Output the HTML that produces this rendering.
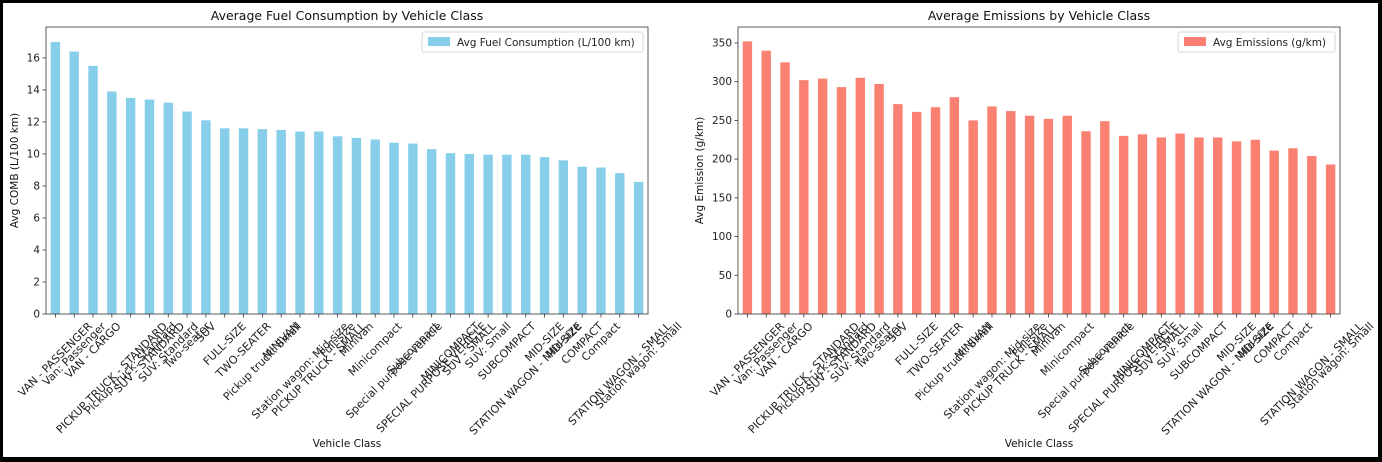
<!DOCTYPE html>
<html><head><meta charset="utf-8"><style>
body{margin:0;background:#000;}
svg{display:block;font-family:"DejaVu Sans","Liberation Sans",sans-serif;}
</style></head><body>
<svg id="c" width="1382" height="462">
<rect x="3" y="3" width="1375" height="454" fill="#fff"/>
</svg>
<script>
const categories=["VAN - PASSENGER","Van: Passenger","VAN - CARGO","PICKUP TRUCK - STANDARD","Pickup truck: Standard","SUV - STANDARD","SUV: Standard","Two-seater","SUV","FULL-SIZE","TWO-SEATER","Pickup truck: Small","MINIVAN","Station wagon: Mid-size","PICKUP TRUCK - SMALL","Full-size","Minivan","Minicompact","Special purpose vehicle","Subcompact","SPECIAL PURPOSE VEHICLE","MINICOMPACT","SUV - SMALL","SUV: Small","SUBCOMPACT","STATION WAGON - MID-SIZE","MID-SIZE","Mid-size","COMPACT","Compact","STATION WAGON - SMALL","Station wagon: Small"];
const fuelValues=[17.0,16.4,15.5,13.9,13.5,13.4,13.2,12.65,12.1,11.6,11.6,11.55,11.5,11.4,11.4,11.1,11.0,10.9,10.7,10.65,10.3,10.05,10.0,9.95,9.95,9.95,9.8,9.6,9.2,9.15,8.8,8.25];
const emissionValues=[352,340,325,302,304,293,305,297,271,261,267,280,250,268,262,256,252,256,236,249,230,232,228,233,228,228,223,225,211,214,204,193];
const fuelTicks=[0,2,4,6,8,10,12,14,16];
const emissionTicks=[0,50,100,150,200,250,300,350];
const svg=document.getElementById('c');
const NS='http://www.w3.org/2000/svg';
function mk(tag,attrs,parent){const e=document.createElementNS(NS,tag);for(const k in attrs)e.setAttribute(k,attrs[k]);(parent||svg).appendChild(e);return e;}
function panel(cfg){
  const g=mk('g',{});
  
  
  const L=cfg.x0,R=cfg.x1,T=27,B=314,n=categories.length;
  const step=(R-L)/n;
  const xs=i=>L+(i+0.5)*step;
  const ys=v=>B-(v/cfg.ymax)*(B-T);
  cfg.values.forEach((v,i)=>{
    const r=mk('rect',{x:xs(i)-step*0.25,y:ys(v),width:step*0.5,height:B-ys(v),fill:cfg.color},g);
    
    
  });
  mk('rect',{x:L,y:T,width:R-L,height:B-T,fill:'none',stroke:'#333','stroke-width':0.8},g);
  cfg.ticks.forEach(t=>{
    const y=ys(t);
    mk('line',{x1:L-3.5,x2:L,y1:y,y2:y,stroke:'#333','stroke-width':0.8},g);
    const tx=mk('text',{x:L-6,y:y+3.5,'font-size':10.5,'text-anchor':'end',fill:'#222'},g);
    tx.textContent=t;
    
    
  });
  const fs=11,fh=12.5;
  categories.forEach((c,i)=>{
    const x=xs(i);
    mk('line',{x1:x,x2:x,y1:B,y2:B+3.5,stroke:'#333','stroke-width':0.8},g);
    const tx=mk('text',{x:x,y:0,'font-size':fs,'text-anchor':'middle','dominant-baseline':'central',fill:'#222'},g);
    tx.textContent=c;
    const w=tx.getComputedTextLength();
    const cy=B+6+(w+fh)*0.7071/2;
    tx.setAttribute('y',cy);
    tx.setAttribute('transform',`rotate(-45 ${x} ${cy})`);
    
    
  });
  const ti=mk('text',{x:(L+R)/2,y:20,'font-size':12.5,'text-anchor':'middle',fill:'#111'},g);
  ti.textContent=cfg.title;
  
  
  const xl=mk('text',{x:(L+R)/2,y:447,'font-size':10.5,'text-anchor':'middle',fill:'#111'},g);
  xl.textContent='Vehicle Class';
  
  
  const yx=cfg.yl,yy=(T+B)/2;
  const yl=mk('text',{x:yx,y:yy,'font-size':10.5,'text-anchor':'middle',fill:'#111',transform:`rotate(-90 ${yx} ${yy})`},g);
  yl.textContent=cfg.ylabel;
  
  
  const lg=mk('g',{},g);
  
  
  mk('rect',{x:R-cfg.lw-5,y:32,width:cfg.lw,height:20,rx:2,fill:'#fff',stroke:'#ccc','stroke-width':0.8},lg);
  mk('rect',{x:R-cfg.lw+1,y:37,width:22,height:9,fill:cfg.color},lg);
  const lt=mk('text',{x:R-cfg.lw+30,y:46,'font-size':10.5,fill:'#222'},lg);
  lt.textContent=cfg.legend;
}
panel({name:'fuel-chart',x0:46,x1:648,values:fuelValues,ticks:fuelTicks,ymax:17.93,color:'#87ceeb',title:'Average Fuel Consumption by Vehicle Class',ylabel:'Avg COMB (L/100 km)',yl:18,legend:'Avg Fuel Consumption (L/100 km)',lw:221});
panel({name:'emissions-chart',x0:738,x1:1340,values:emissionValues,ticks:emissionTicks,ymax:370.6,color:'#fa8072',title:'Average Emissions by Vehicle Class',ylabel:'Avg Emission (g/km)',yl:703,legend:'Avg Emissions (g/km)',lw:157});
</script>
</body></html>
